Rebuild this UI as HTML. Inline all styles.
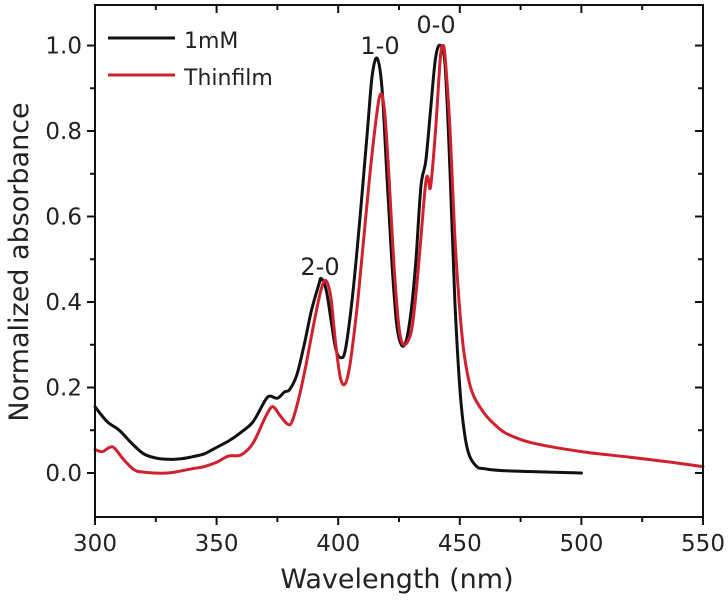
<!DOCTYPE html>
<html><head><meta charset="utf-8"><style>
body{margin:0;background:#fff;}
svg{display:block;font-family:"DejaVu Sans","Liberation Sans",sans-serif;}
</style></head><body>
<svg id="chart" width="728" height="606" viewBox="0 0 728 606"></svg>
<script>
const xTicks=[300,350,400,450,500,550];
const yTicks=[0.0,0.2,0.4,0.6,0.8,1.0];
const yTickLabels=["0.0","0.2","0.4","0.6","0.8","1.0"];
const wl1mM=[300,305,310,315,320,325,330,335,340,345,350,355,360,365,370,372,375,378,380,383,386,389,392,393,395,397,399,401,403,406,409,412,414,416,418,420,422,424,426,428,430,432,434,436,438,440,442,444,446,448,450,452,454,457,460,470,500];
const abs1mM=[0.155,0.12,0.10,0.07,0.045,0.035,0.032,0.033,0.038,0.045,0.06,0.075,0.095,0.12,0.17,0.18,0.175,0.19,0.195,0.23,0.30,0.38,0.44,0.455,0.43,0.36,0.29,0.27,0.29,0.42,0.60,0.80,0.93,0.97,0.90,0.70,0.50,0.35,0.30,0.31,0.38,0.50,0.67,0.73,0.85,0.97,1.0,0.95,0.70,0.40,0.20,0.09,0.04,0.015,0.01,0.005,0.0];
const wlFilm=[300,303,306,308,312,316,320,330,340,345,350,355,360,365,370,373,376,379,381,384,387,390,393,395,397,399,401,403,405,408,411,414,417,419,421,423,425,427,430,432,434,436,437,438,440,442,443,444,446,448,450,452,455,460,465,470,480,500,520,537,550];
const absFilm=[0.055,0.05,0.06,0.058,0.03,0.008,0.002,0.0,0.01,0.015,0.025,0.04,0.042,0.07,0.13,0.155,0.135,0.115,0.12,0.18,0.26,0.35,0.43,0.45,0.41,0.30,0.22,0.21,0.26,0.40,0.58,0.75,0.88,0.85,0.68,0.48,0.34,0.30,0.33,0.42,0.55,0.68,0.69,0.67,0.80,0.97,1.0,0.97,0.80,0.55,0.38,0.27,0.19,0.14,0.11,0.09,0.07,0.05,0.037,0.025,0.015];
const L=95,R=703,T=5,B=517;
const xs=v=>L+(v-300)/250*(R-L);
const ys=v=>473-v*427.5;
const svg=document.getElementById('chart');
const NS='http://www.w3.org/2000/svg';
function mk(tag,attrs,parent){const e=document.createElementNS(NS,tag);for(const k in attrs)e.setAttribute(k,attrs[k]);(parent||svg).appendChild(e);return e;}
function path(xa,ya,color,name){
  const P=xa.map((x,i)=>[xs(x),ys(ya[i])]);
  let d='M'+P[0][0].toFixed(1)+','+P[0][1].toFixed(1);
  for(let i=0;i<P.length-1;i++){
    const p0=P[Math.max(0,i-1)],p1=P[i],p2=P[i+1],p3=P[Math.min(P.length-1,i+2)];
    const c1x=p1[0]+(p2[0]-p0[0])/6,c1y=p1[1]+(p2[1]-p0[1])/6;
    const c2x=p2[0]-(p3[0]-p1[0])/6,c2y=p2[1]-(p3[1]-p1[1])/6;
    d+='C'+c1x.toFixed(1)+','+c1y.toFixed(1)+' '+c2x.toFixed(1)+','+c2y.toFixed(1)+' '+p2[0].toFixed(1)+','+p2[1].toFixed(1);
  }
  const p=mk('path',{d:d,fill:'none',stroke:color,'stroke-width':3,'stroke-linejoin':'round','stroke-linecap':'round'});
  
  
}
path(wl1mM,abs1mM,'#111','series-1mm');
path(wlFilm,absFilm,'#d0222e','series-thinfilm');
const fr=mk('rect',{x:L,y:T,width:R-L,height:B-T,fill:'none',stroke:'#111','stroke-width':2});


for(let v=300;v<=550;v+=25){
  const len=(v%50===0)?8:5;
  mk('line',{x1:xs(v),x2:xs(v),y1:B,y2:B+len,stroke:'#111','stroke-width':2});
  mk('line',{x1:xs(v),x2:xs(v),y1:T,y2:T+len,stroke:'#111','stroke-width':2});
}
xTicks.forEach(v=>{const t=mk('text',{x:xs(v),y:551,'text-anchor':'middle','font-size':23,fill:'#222'});t.textContent=v;

});
for(let v=0;v<=1.0001;v+=0.1){
  const len=(Math.round(v*10)%2===0)?8:5;
  mk('line',{x1:L-len,x2:L,y1:ys(v),y2:ys(v),stroke:'#111','stroke-width':2});
  mk('line',{x1:R-len,x2:R,y1:ys(v),y2:ys(v),stroke:'#111','stroke-width':2});
}
yTicks.forEach((v,i)=>{const t=mk('text',{x:82,y:ys(v)+8,'text-anchor':'end','font-size':23,fill:'#222'});t.textContent=yTickLabels[i];

});
</script>
<svg style="position:absolute;left:0;top:0" width="728" height="606">
<g font-family="DejaVu Sans, Liberation Sans, sans-serif" fill="#222">
<text x="397" y="588" text-anchor="middle" font-size="27">Wavelength (nm)</text>
<text transform="translate(28,262) rotate(-90)" text-anchor="middle" font-size="27">Normalized absorbance</text>
<text x="380" y="54" text-anchor="middle" font-size="24">1-0</text>
<text x="436" y="33" text-anchor="middle" font-size="24">0-0</text>
<text x="320" y="275" text-anchor="middle" font-size="24">2-0</text>
<g>
<line x1="108" x2="175" y1="38" y2="38" stroke="#111" stroke-width="3"/>
<text x="184" y="48" font-size="22">1mM</text>
<line x1="108" x2="175" y1="75" y2="75" stroke="#d0222e" stroke-width="3"/>
<text x="184" y="85" font-size="22">Thinfilm</text>
</g></g></svg>
</body></html>
